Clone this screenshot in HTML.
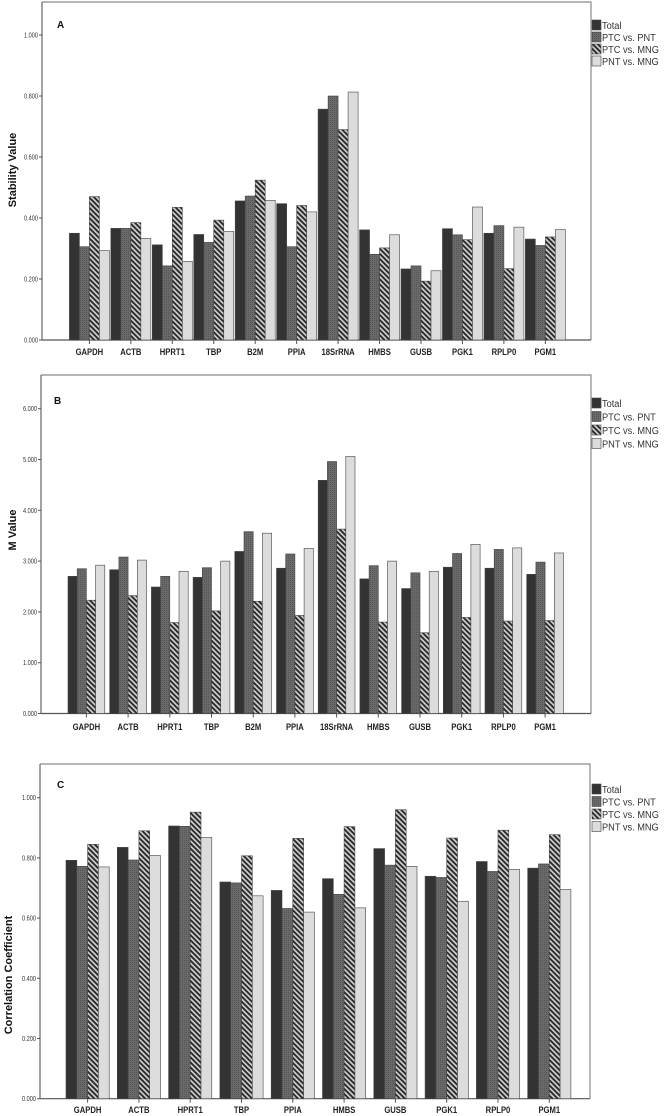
<!DOCTYPE html>
<html><head><meta charset="utf-8"><style>
body{margin:0;background:#fff;}
svg{display:block;font-family:"Liberation Sans",Arial,sans-serif;}
</style></head><body>
<svg id="fig" width="666" height="1116" viewBox="0 0 666 1116" xmlns="http://www.w3.org/2000/svg">
<defs>
<pattern id="dots" width="2" height="2" patternUnits="userSpaceOnUse"><rect width="2" height="2" fill="#6a6a6a"/><rect width="1" height="1" fill="#555"/></pattern>
<pattern id="hatch" width="3.6" height="3.6" patternUnits="userSpaceOnUse" patternTransform="rotate(45)"><rect width="3.6" height="3.6" fill="#d0d0d0"/><rect width="3.6" height="1.9" fill="#2a2a2a"/></pattern>
</defs>
</svg>
<script>
const seriesNames=["Total","PTC vs. PNT","PTC vs. MNG","PNT vs. MNG"];
const catsAB=["GAPDH","ACTB","HPRT1","TBP","B2M","PPIA","18SrRNA","HMBS","GUSB","PGK1","RPLP0","PGM1"];
const catsC=["GAPDH","ACTB","HPRT1","TBP","PPIA","HMBS","GUSB","PGK1","RPLP0","PGM1"];
const aTotal=[.350,.366,.312,.346,.456,.447,.757,.361,.233,.365,.350,.331];
const aPtcPnt=[.306,.366,.243,.320,.472,.306,.800,.281,.243,.345,.375,.310];
const aPtcMng=[.470,.385,.435,.393,.524,.441,.690,.302,.193,.329,.234,.338];
const aPntMng=[.293,.333,.258,.356,.458,.420,.813,.345,.227,.436,.370,.362];
const bTotal=[2.70,2.83,2.49,2.68,3.19,2.86,4.59,2.65,2.46,2.88,2.86,2.74];
const bPtcPnt=[2.85,3.08,2.70,2.87,3.58,3.14,4.96,2.91,2.77,3.15,3.23,2.98];
const bPtcMng=[2.23,2.32,1.79,2.02,2.21,1.93,3.63,1.80,1.59,1.89,1.82,1.83];
const bPntMng=[2.92,3.02,2.80,3.00,3.55,3.25,5.06,3.00,2.80,3.33,3.26,3.16];
const cTotal=[.792,.835,.906,.720,.692,.731,.831,.739,.788,.766];
const cPtcPnt=[.772,.793,.905,.717,.632,.679,.776,.735,.755,.780];
const cPtcMng=[.845,.890,.952,.807,.865,.904,.960,.866,.892,.877];
const cPntMng=[.770,.808,.868,.674,.620,.634,.772,.656,.762,.695];
const ticksA=["0.000","0.200","0.400","0.600","0.800","1.000"];
const ticksB=["0.000","1.000","2.000","3.000","4.000","5.000","6.000"];
const ticksC=["0.000","0.200","0.400","0.600","0.800","1.000"];

const NS="http://www.w3.org/2000/svg";
const svg=document.getElementById('fig');
const fills=["#333333","url(#dots)","url(#hatch)","#dcdcdc"];
function mk(tag,attrs,parent){const e=document.createElementNS(NS,tag);for(const k in attrs)e.setAttribute(k,attrs[k]);(parent||svg).appendChild(e);return e;}

function panel(cfg){
  const g=mk('g',{});
  
  
  const right=cfg.fx+cfg.fw;
  const fr=mk('path',{d:`M${cfg.fx} ${cfg.fy}H${right}V${cfg.y0}`,fill:'none',stroke:'#8a8a8a','stroke-width':1.2},g);
  
  
  const y=v=>cfg.y0-(v/cfg.unit)*cfg.pxPerUnit;
  const ax=mk('line',{x1:cfg.fx,y1:cfg.y0,x2:right,y2:cfg.y0,stroke:'#555','stroke-width':1.2},g);
  
  
  const ay=mk('line',{x1:cfg.fx,y1:cfg.y0,x2:cfg.fx,y2:cfg.fy,stroke:'#666','stroke-width':1.2},g);
  
  
  cfg.ticks.forEach(t=>{
    const v=parseFloat(t),yy=y(v);
    mk('line',{x1:cfg.fx-3,y1:yy,x2:cfg.fx,y2:yy,stroke:'#555'},g);
    const tx=mk('text',{x:cfg.fx-4,y:yy+2.5,'font-size':7,'text-anchor':'end',fill:'#333',transform:`translate(${cfg.fx-4} 0) scale(0.8 1) translate(${-(cfg.fx-4)} 0)`},g);
    tx.textContent=t;
    
    
  });
  const yt=mk('text',{x:0,y:0,'font-size':11,'font-weight':'bold','text-anchor':'middle',fill:'#111',transform:`translate(${cfg.ytx} ${cfg.yty}) rotate(-90)`},g);
  yt.textContent=cfg.ytitle;
  
  
  const lt=mk('text',{x:cfg.lx,y:cfg.ly,'font-size':10,'font-weight':'bold',fill:'#111'},g);
  lt.textContent=cfg.letter;
  
  
  cfg.cats.forEach((c,i)=>{
    const gx=cfg.start+i*cfg.pitch;
    cfg.series.forEach((s,k)=>{
      const v=s[i],top=y(v);
      const r=mk('rect',{x:gx+k*cfg.bw,y:top,width:cfg.bw,height:cfg.y0-top,fill:fills[k],stroke:'#444','stroke-width':0.6},g);
      
      
    });
    const cx=gx+2*cfg.bw;
    mk('line',{x1:cx,y1:cfg.y0,x2:cx,y2:cfg.y0+4,stroke:'#555'},g);
    const lab=mk('text',{x:cx,y:cfg.labY,'font-size':9,'font-weight':'bold','text-anchor':'middle',fill:'#222',transform:`translate(${cx} 0) scale(0.85 1) translate(${-cx} 0)`},g);
    lab.textContent=c;
    
    
  });
  seriesNames.forEach((n,k)=>{
    const ly=cfg.legY+k*cfg.legStep;
    const sw=mk('rect',{x:592,y:ly-5,width:9,height:10,fill:fills[k],stroke:'#444','stroke-width':0.6},g);
    
    
    const t=mk('text',{x:602,y:ly+4,'font-size':10.5,fill:'#333',transform:`translate(602 0) scale(0.88 1) translate(-602 0)`},g);
    t.textContent=n;
    
    
  });
}
panel({letter:'A',cats:catsAB,series:[aTotal,aPtcPnt,aPtcMng,aPntMng],ticks:ticksA,unit:1,pxPerUnit:305,y0:340,start:69.4,pitch:41.45,bw:10,
  fx:42,fy:2,fw:549,labY:355,ytitle:'Stability Value',ytx:16,yty:170,lx:57,ly:28,legY:25,legStep:12});
panel({letter:'B',cats:catsAB,series:[bTotal,bPtcPnt,bPtcMng,bPntMng],ticks:ticksB,unit:1,pxPerUnit:50.8,y0:713.5,start:68,pitch:41.7,bw:9.2,
  fx:41,fy:375,fw:550,labY:730,ytitle:'M Value',ytx:16,yty:530,lx:54,ly:404,legY:403,legStep:13.5});
panel({letter:'C',cats:catsC,series:[cTotal,cPtcPnt,cPtcMng,cPntMng],ticks:ticksC,unit:1,pxPerUnit:301,y0:1098.7,start:66,pitch:51.3,bw:10.8,
  fx:40,fy:764,fw:550,labY:1113,ytitle:'Correlation Coefficient',ytx:12,yty:975,lx:57,ly:788,legY:789,legStep:12.5});
</script>
</body></html>
